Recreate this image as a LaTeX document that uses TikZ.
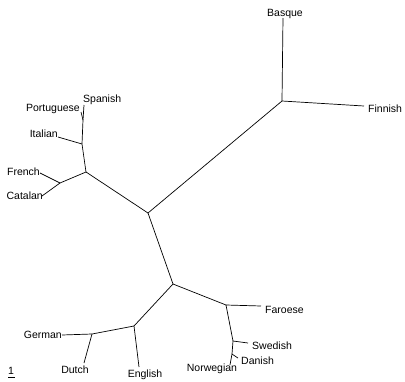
\documentclass[tikz,border=0pt]{standalone}
\usepackage{fontspec}
\setmainfont{Liberation Sans}
\usepackage{tikz}
\usetikzlibrary{positioning}
\tikzset{
branch/.style = { draw = black, line width = 0.7pt },
lang/.style = { inner sep = 0pt, font = \fontsize{10.5}{12}\selectfont },
}

\begin{document}
\begin{tikzpicture}[x = 1pt, y = -1pt]
    \useasboundingbox (0, 0) rectangle (405, 381);
    % inner vertices
    \coordinate (root) at (148, 213);
    \coordinate (uralic) at (282, 101);
    \coordinate (romance) at (86, 172);
    \coordinate (italic) at (82, 144);
    \coordinate (ibero) at (83, 120);
    \coordinate (gallo) at (60, 183);
    \coordinate (germanic) at (173, 284);
    \coordinate (westgerm) at (134, 326);
    \coordinate (lowgerm) at (92, 334);
    \coordinate (northgerm) at (226, 305);
    \coordinate (scand) at (233, 341);
    \coordinate (mainland) at (232, 354);
    % leaf tips
    \coordinate (basque) at (283, 18);
    \coordinate (finnish) at (364, 106);
    \coordinate (spanish) at (84, 105);
    \coordinate (portuguese) at (81, 112);
    \coordinate (italian) at (58, 137);
    \coordinate (french) at (40, 173);
    \coordinate (catalan) at (42, 196);
    \coordinate (german) at (62, 335);
    \coordinate (dutch) at (84, 363);
    \coordinate (english) at (139, 367);
    \coordinate (faroese) at (261, 306);
    \coordinate (swedish) at (248, 343);
    \coordinate (danish) at (238, 358);
    \coordinate (norwegian) at (230, 365);
    % labels
    \node[lang, anchor = base] (basque label) at (285, 16) {Basque};
    \node[lang, anchor = base west] (finnish label) at (368, 112) {Finnish};
    \node[lang, anchor = base west] (spanish label) at (83, 102) {Spanish};
    \node[lang, anchor = base east] (portuguese label) at (80, 111) {Portuguese};
    \node[lang, anchor = base east] (italian label) at (58, 137) {Italian};
    \node[lang, anchor = base east] (french label) at (40, 175) {French};
    \node[lang, anchor = base east] (catalan label) at (43, 199) {Catalan};
    \node[lang, anchor = base east] (german label) at (62, 338) {German};
    \node[lang, anchor = base] (dutch label) at (75, 373) {Dutch};
    \node[lang, anchor = base] (english label) at (145, 377) {English};
    \node[lang, anchor = base west] (faroese label) at (265, 313) {Faroese};
    \node[lang, anchor = base west] (swedish label) at (252, 349) {Swedish};
    \node[lang, anchor = base west] (danish label) at (241, 364) {Danish};
    \node[lang, anchor = base] (norwegian label) at (212, 371) {Norwegian};
    % scale bar
    \node[lang, anchor = base west] (scale label) at (8, 374) {1};
    \coordinate (scale left) at (8, 377);
    \coordinate (scale right) at (15, 377);
    \draw[branch] (scale left) -- (scale right);
    % tree
    \draw[branch] (root) -- (uralic);
    \draw[branch] (uralic) -- (basque);
    \draw[branch] (uralic) -- (finnish);
    \draw[branch] (root) -- (romance);
    \draw[branch] (romance) -- (italic);
    \draw[branch] (italic) -- (ibero);
    \draw[branch] (ibero) -- (spanish);
    \draw[branch] (ibero) -- (portuguese);
    \draw[branch] (italic) -- (italian);
    \draw[branch] (romance) -- (gallo);
    \draw[branch] (gallo) -- (french);
    \draw[branch] (gallo) -- (catalan);
    \draw[branch] (root) -- (germanic);
    \draw[branch] (germanic) -- (westgerm);
    \draw[branch] (westgerm) -- (lowgerm);
    \draw[branch] (lowgerm) -- (german);
    \draw[branch] (lowgerm) -- (dutch);
    \draw[branch] (westgerm) -- (english);
    \draw[branch] (germanic) -- (northgerm);
    \draw[branch] (northgerm) -- (faroese);
    \draw[branch] (northgerm) -- (scand);
    \draw[branch] (scand) -- (swedish);
    \draw[branch] (scand) -- (mainland);
    \draw[branch] (mainland) -- (danish);
    \draw[branch] (mainland) -- (norwegian);
\end{tikzpicture}
\end{document}
